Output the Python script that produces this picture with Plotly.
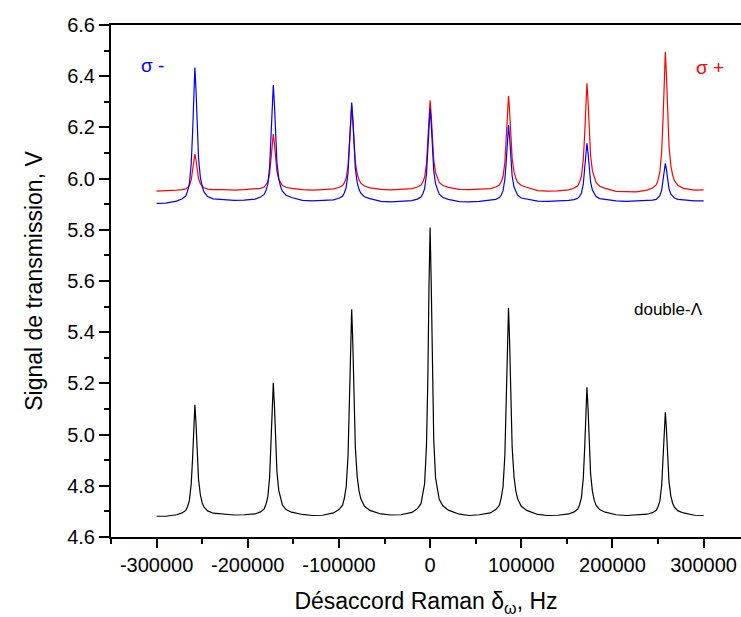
import plotly.graph_objects as go

# Raman detuning (Hz)
detuning = [
    -300000, -290000,
    -278000, -272000, -268000, -266000, -264000, -262000, -260500, -259200, -258000, -256800, -255500, -254000, -252000, -250000, -248000, -244000, -238000,
    -226000, -215000, -204000,
    -192000, -186000, -182000, -180000, -178000, -176000, -174500, -173200, -172000, -170800, -169500, -168000, -166000, -164000, -162000, -158000, -152000,
    -140000, -129000, -118000,
    -106000, -100000, -96000, -94000, -92000, -90000, -88500, -87200, -86000, -84800, -83500, -82000, -80000, -78000, -76000, -72000, -66000,
    -54000, -43000, -32000,
    -20000, -14000, -10000, -8000, -6000, -4000, -2500, -1200, 0, 1200, 2500, 4000, 6000, 8000, 10000, 14000, 20000,
    32000, 43000, 54000,
    66000, 72000, 76000, 78000, 80000, 82000, 83500, 84800, 86000, 87200, 88500, 90000, 92000, 94000, 96000, 100000, 106000,
    118000, 129000, 140000,
    152000, 158000, 162000, 164000, 166000, 168000, 169500, 170800, 172000, 173200, 174500, 176000, 178000, 180000, 182000, 186000, 192000,
    204000, 215000, 226000,
    238000, 244000, 248000, 250000, 252000, 254000, 255500, 256800, 258000, 259200, 260500, 262000, 264000, 266000, 268000, 272000, 278000,
    290000, 300000,
]

# double-Lambda signal (V)
double_lambda = [
    4.681, 4.681,
    4.687, 4.694, 4.704, 4.719, 4.743, 4.808, 4.908, 5.042, 5.116, 5.047, 4.921, 4.825, 4.765, 4.734, 4.717, 4.702, 4.693,
    4.688, 4.686, 4.687,
    4.690, 4.698, 4.710, 4.728, 4.757, 4.834, 4.953, 5.114, 5.202, 5.119, 4.969, 4.855, 4.782, 4.746, 4.725, 4.707, 4.697,
    4.688, 4.684, 4.685,
    4.694, 4.707, 4.724, 4.753, 4.797, 4.918, 5.103, 5.353, 5.490, 5.361, 5.127, 4.950, 4.837, 4.781, 4.749, 4.720, 4.704,
    4.690, 4.686, 4.687,
    4.696, 4.710, 4.730, 4.764, 4.809, 4.955, 5.213, 5.584, 5.809, 5.595, 5.236, 4.977, 4.831, 4.781, 4.747, 4.722, 4.705,
    4.689, 4.684, 4.687,
    4.694, 4.707, 4.724, 4.753, 4.797, 4.918, 5.103, 5.356, 5.495, 5.364, 5.130, 4.950, 4.837, 4.781, 4.749, 4.720, 4.704,
    4.688, 4.684, 4.685,
    4.690, 4.698, 4.709, 4.727, 4.754, 4.829, 4.945, 5.100, 5.185, 5.105, 4.960, 4.849, 4.779, 4.744, 4.724, 4.707, 4.697,
    4.687, 4.684, 4.686,
    4.689, 4.695, 4.704, 4.718, 4.740, 4.801, 4.894, 5.018, 5.087, 5.023, 4.906, 4.817, 4.761, 4.732, 4.716, 4.702, 4.694,
    4.685, 4.684,
]

# sigma- signal (V)
sigma_minus = [
    5.903, 5.904,
    5.912, 5.921, 5.932, 5.951, 5.980, 6.059, 6.181, 6.344, 6.434, 6.350, 6.196, 6.080, 6.006, 5.969, 5.948, 5.930, 5.921,
    5.917, 5.915, 5.916,
    5.920, 5.928, 5.938, 5.953, 5.978, 6.046, 6.149, 6.289, 6.365, 6.293, 6.163, 6.064, 6.001, 5.969, 5.951, 5.935, 5.926,
    5.915, 5.913, 5.914,
    5.917, 5.923, 5.931, 5.945, 5.966, 6.024, 6.112, 6.232, 6.297, 6.235, 6.124, 6.039, 5.985, 5.958, 5.943, 5.929, 5.922,
    5.911, 5.909, 5.911,
    5.914, 5.920, 5.928, 5.941, 5.961, 6.016, 6.099, 6.212, 6.274, 6.216, 6.110, 6.030, 5.979, 5.954, 5.939, 5.926, 5.919,
    5.910, 5.909, 5.911,
    5.915, 5.919, 5.926, 5.936, 5.953, 5.997, 6.066, 6.158, 6.209, 6.161, 6.075, 6.009, 5.968, 5.947, 5.935, 5.924, 5.919,
    5.912, 5.911, 5.912,
    5.915, 5.918, 5.923, 5.931, 5.944, 5.978, 6.030, 6.100, 6.138, 6.102, 6.036, 5.987, 5.955, 5.939, 5.930, 5.922, 5.918,
    5.913, 5.911, 5.912,
    5.914, 5.916, 5.919, 5.925, 5.933, 5.955, 5.989, 6.035, 6.060, 6.036, 5.993, 5.961, 5.940, 5.930, 5.924, 5.919, 5.916,
    5.913, 5.913,
]

# sigma+ signal (V)
sigma_plus = [
    5.951, 5.952,
    5.955, 5.957, 5.960, 5.965, 5.973, 5.995, 6.027, 6.072, 6.096, 6.073, 6.032, 6.000, 5.980, 5.970, 5.964, 5.959, 5.957,
    5.957, 5.955, 5.957,
    5.959, 5.962, 5.967, 5.975, 5.987, 6.019, 6.069, 6.137, 6.174, 6.139, 6.076, 6.028, 5.997, 5.982, 5.973, 5.966, 5.962,
    5.957, 5.955, 5.957,
    5.960, 5.965, 5.973, 5.984, 6.002, 6.051, 6.127, 6.229, 6.285, 6.232, 6.137, 6.065, 6.019, 5.995, 5.982, 5.971, 5.964,
    5.958, 5.956, 5.958,
    5.961, 5.967, 5.975, 5.987, 6.006, 6.058, 6.139, 6.247, 6.306, 6.250, 6.149, 6.072, 6.023, 5.999, 5.985, 5.973, 5.966,
    5.958, 5.957, 5.959,
    5.961, 5.967, 5.975, 5.988, 6.008, 6.063, 6.147, 6.261, 6.323, 6.264, 6.158, 6.078, 6.027, 6.001, 5.986, 5.973, 5.966,
    5.953, 5.951, 5.952,
    5.956, 5.963, 5.972, 5.987, 6.010, 6.073, 6.170, 6.300, 6.372, 6.305, 6.183, 6.090, 6.031, 6.002, 5.985, 5.970, 5.962,
    5.950, 5.948, 5.948,
    5.955, 5.963, 5.975, 5.994, 6.025, 6.107, 6.232, 6.402, 6.495, 6.408, 6.249, 6.129, 6.052, 6.014, 5.992, 5.973, 5.962,
    5.955, 5.956,
]

x_tickvals = [-300000, -200000, -100000, 0, 100000, 200000, 300000]
x_ticktext = ["-300000", "-200000", "-100000", "0", "100000", "200000", "300000"]

FONT = "Liberation Sans, Arial, sans-serif"

fig = go.Figure()
fig.add_trace(go.Scatter(x=detuning, y=double_lambda, mode="lines",
                         line=dict(color="black", width=1.2), showlegend=False))
fig.add_trace(go.Scatter(x=detuning, y=sigma_plus, mode="lines",
                         line=dict(color="#ff0000", width=1.2), showlegend=False))
fig.add_trace(go.Scatter(x=detuning, y=sigma_minus, mode="lines",
                         line=dict(color="#0000ff", width=1.2), showlegend=False))

fig.add_annotation(x=-304000, y=6.44, text="σ -", showarrow=False,
                   font=dict(color="#0000ff", size=19, family=FONT))
fig.add_annotation(x=306700, y=6.435, text="σ +", showarrow=False,
                   font=dict(color="#ff0000", size=19, family=FONT))
fig.add_annotation(x=262000, y=5.49, text="double-Λ", showarrow=False,
                   font=dict(color="black", size=17, family=FONT))

fig.update_layout(
    width=741, height=617,
    margin=dict(l=111, r=0, t=25, b=80),
    paper_bgcolor="white", plot_bgcolor="white",
    font=dict(family=FONT, color="black"),
    xaxis=dict(
        range=[-350000, 341000],
        tickvals=x_tickvals, ticktext=x_ticktext,
        ticks="outside", ticklen=9, tickwidth=1.5, tickcolor="black",
        minor=dict(dtick=50000, tick0=0, ticks="outside", ticklen=5, tickwidth=1.5, tickcolor="black"),
        showline=True, linewidth=2, linecolor="black", mirror=True,
        showgrid=False, zeroline=False, automargin=False,
        tickfont=dict(size=20),
        title=dict(text="Désaccord Raman δ<sub>ω</sub>, Hz", font=dict(size=23), standoff=18),
    ),
    yaxis=dict(
        range=[4.6, 6.6], dtick=0.2, tick0=4.6, tickformat=".1f",
        ticks="outside", ticklen=10, tickwidth=1.5, tickcolor="black",
        minor=dict(dtick=0.1, ticks="outside", ticklen=5, tickwidth=1.5, tickcolor="black"),
        showline=True, linewidth=2, linecolor="black", mirror=False,
        showgrid=False, zeroline=False, automargin=False,
        tickfont=dict(size=20),
        title=dict(text="Signal de transmission, V", font=dict(size=23), standoff=18),
    ),
)

fig.write_html(
    "out.html",
    config={"displayModeBar": False},
    post_script="document.body.style.margin='0px';document.body.style.overflow='hidden';",
)
